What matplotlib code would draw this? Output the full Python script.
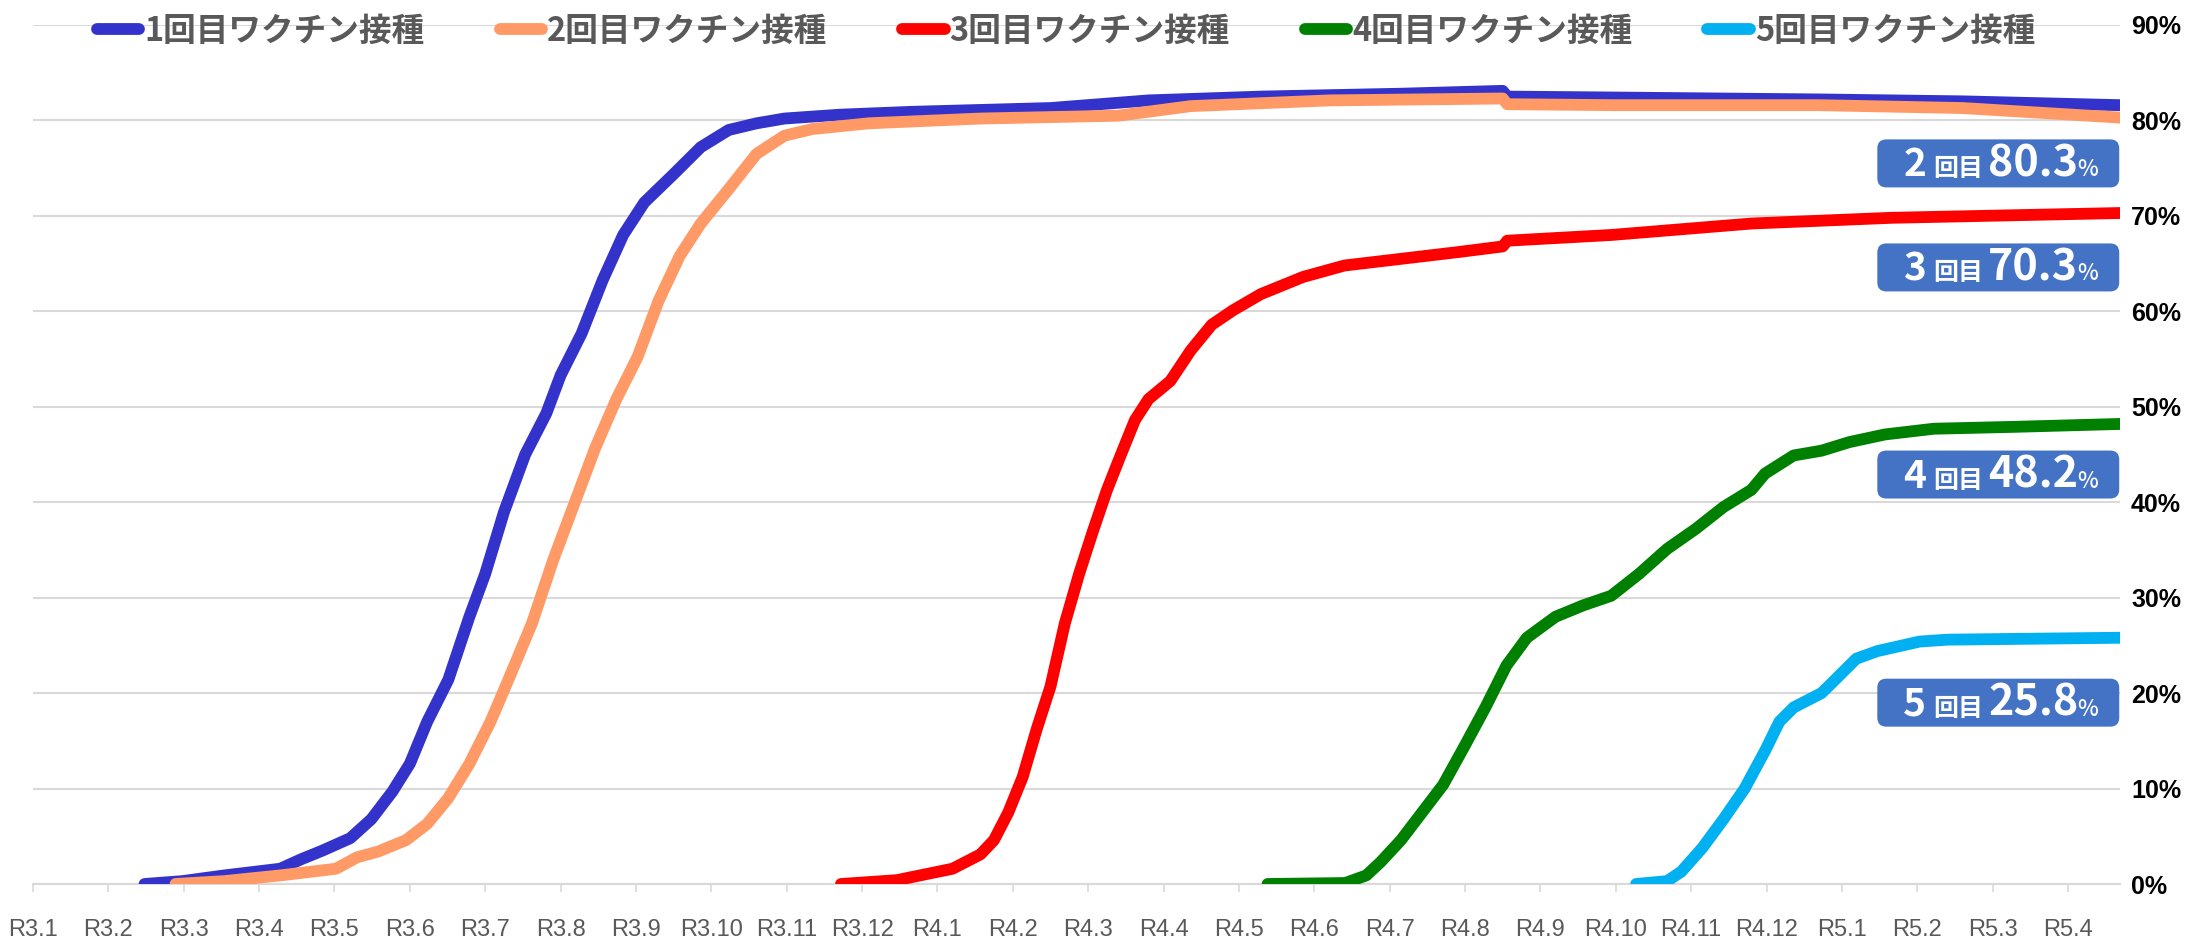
import numpy as np
import matplotlib.pyplot as plt
from matplotlib.patches import FancyBboxPatch
from matplotlib.transforms import IdentityTransform

# 横軸は R3.1 からの月数
month_labels = ["R3.1", "R3.2", "R3.3", "R3.4", "R3.5", "R3.6", "R3.7", "R3.8",
                "R3.9", "R3.10", "R3.11", "R3.12", "R4.1", "R4.2", "R4.3", "R4.4",
                "R4.5", "R4.6", "R4.7", "R4.8", "R4.9", "R4.10", "R4.11", "R4.12",
                "R5.1", "R5.2", "R5.3", "R5.4"]

# 1回目
x1 = [1.48, 1.98, 2.54, 3.28, 3.56, 3.84, 4.21, 4.49, 4.77, 5.0, 5.23, 5.51, 5.79,
      6.0, 6.25, 6.53, 6.81, 7.0, 7.28, 7.56, 7.83, 8.11, 8.49, 8.86, 9.23, 9.6,
      9.97, 10.7, 11.65, 13.5, 14.8, 16.3, 18.15, 19.5, 19.56, 21.0, 23.7, 25.6, 27.69]
y1 = [0.0, 0.3, 0.9, 1.6, 2.6, 3.5, 4.8, 6.8, 9.7, 12.6, 17.0, 21.4, 28.0,
      32.5, 39.0, 45.0, 49.3, 53.3, 57.7, 63.3, 68.0, 71.4, 74.3, 77.2, 79.0, 79.7,
      80.2, 80.6, 80.9, 81.3, 82.1, 82.5, 82.8, 83.1, 82.5, 82.4, 82.2, 82.0, 81.6]

# 2回目
x2 = [1.89, 2.54, 3.28, 4.02, 4.3, 4.58, 4.95, 5.23, 5.51, 5.79, 6.07, 6.35, 6.62,
      6.9, 7.18, 7.46, 7.74, 8.02, 8.3, 8.58, 8.86, 9.23, 9.6, 9.97, 10.34, 11.09,
      12.57, 14.4, 15.36, 17.2, 19.5, 19.56, 21.0, 23.7, 25.6, 27.69]
y2 = [0.0, 0.3, 0.9, 1.6, 2.8, 3.4, 4.6, 6.3, 9.0, 12.6, 17.0, 22.2, 27.3,
      33.9, 39.8, 45.7, 50.8, 55.2, 61.1, 65.8, 69.2, 72.8, 76.5, 78.4, 79.1, 79.7,
      80.2, 80.5, 81.5, 82.1, 82.3, 81.7, 81.6, 81.6, 81.3, 80.3]

# 3回目
x3 = [10.72, 11.46, 11.83, 12.2, 12.57, 12.75, 12.94, 13.13, 13.32, 13.5, 13.69,
      13.88, 14.06, 14.25, 14.43, 14.62, 14.8, 15.09, 15.36, 15.64, 15.92, 16.29,
      16.85, 17.4, 18.15, 18.9, 19.5, 19.56, 20.94, 22.8, 24.66, 27.69]
y3 = [0.0, 0.4, 1.0, 1.6, 3.1, 4.6, 7.5, 11.2, 16.3, 20.7, 27.3,
      32.5, 36.9, 41.3, 44.9, 48.6, 50.8, 52.7, 55.9, 58.6, 60.1, 61.8,
      63.6, 64.8, 65.5, 66.2, 66.8, 67.4, 68.0, 69.2, 69.8, 70.3]

# 4回目
x4 = [16.38, 17.41, 17.69, 17.88, 18.15, 18.43, 18.71, 18.99, 19.27, 19.55, 19.82,
      20.2, 20.57, 20.94, 21.31, 21.68, 22.06, 22.43, 22.8, 22.98, 23.36, 23.73,
      24.1, 24.57, 25.22, 26.3, 27.69]
y4 = [0.0, 0.1, 0.9, 2.3, 4.6, 7.5, 10.4, 14.4, 18.5, 22.9, 25.8,
      28.0, 29.2, 30.2, 32.5, 35.1, 37.2, 39.5, 41.3, 43.0, 44.9, 45.4,
      46.3, 47.1, 47.7, 47.9, 48.2]

# 5回目
x5 = [21.27, 21.68, 21.87, 22.15, 22.43, 22.71, 22.99, 23.17, 23.36, 23.73, 23.91,
      24.19, 24.47, 25.03, 25.4, 27.69]
y5 = [0.0, 0.3, 1.3, 3.8, 6.8, 10.0, 14.1, 17.0, 18.5, 20.0, 21.4,
      23.6, 24.4, 25.4, 25.6, 25.8]

series_names = ["1回目ワクチン接種", "2回目ワクチン接種", "3回目ワクチン接種",
                "4回目ワクチン接種", "5回目ワクチン接種"]
colors = ["#3333CC", "#FF9966", "#FF0000", "#008000", "#00B0F0"]

# 右端のラベル（回数, 値）
label_rounds = ["2", "3", "4", "5"]
label_values = [80.3, 70.3, 48.2, 25.8]
label_centers = [75.5, 64.6, 42.9, 19.0]

plt.rcParams['font.family'] = ['Liberation Sans', 'Noto Sans CJK JP', 'DejaVu Sans']

W, H = 2197, 939
fig = plt.figure(figsize=(W / 100, H / 100), dpi=100)
ax = fig.add_axes([33 / W, 1 - 884 / H, (2120 - 33) / W, (884 - 25) / H])

xs = [x1, x2, x3, x4, x5]
ys = [y1, y2, y3, y4, y5]
for x, y, c, name in zip(xs, ys, colors, series_names):
    ax.plot(x, y, color=c, lw=8.5, solid_capstyle='round', solid_joinstyle='round',
            label=name, zorder=3)

ax.set_xlim(0, 27.69)
ax.set_ylim(0, 90)
ax.set_xticks(np.arange(len(month_labels)))
ax.set_xticklabels(month_labels)
ax.set_yticks(np.arange(0, 91, 10))
ax.set_yticklabels([f"{v}%" for v in range(0, 91, 10)])
ax.yaxis.tick_right()

ax.grid(axis='y', color='#D9D9D9', lw=1.5)
ax.set_axisbelow(True)
for s in ['left', 'right', 'top']:
    ax.spines[s].set_visible(False)
ax.spines['bottom'].set_color('#D9D9D9')
ax.spines['bottom'].set_linewidth(1.5)
ax.spines['bottom'].set_zorder(1)

ax.tick_params(axis='x', colors='#D9D9D9', length=6, width=1.2, pad=19,
               labelcolor='#595959', labelsize=17)
ax.tick_params(axis='y', length=0, pad=8, labelsize=18, labelcolor='black')
for t in ax.get_yticklabels():
    t.set_fontweight('bold')

# 凡例
leg = fig.legend(loc='center', bbox_to_anchor=(1066 / W, 1 - 31 / H), ncol=5,
                 frameon=False, handlelength=1.3, handletextpad=0.15,
                 columnspacing=2.3,
                 prop={'family': ['Noto Sans CJK JP'], 'weight': 'bold', 'size': 23.5})
for t in leg.get_texts():
    t.set_color('#595959')

# 右端の数値ラベル
ident = IdentityTransform()
jp = ['Noto Sans CJK JP']
for r, v, yc in zip(label_rounds, label_values, label_centers):
    px0, pyc = ax.transData.transform((24.47, yc))
    px1, _ = ax.transData.transform((27.68, yc))
    box = FancyBboxPatch((px0, pyc - 24), px1 - px0, 48,
                         boxstyle='round,pad=0,rounding_size=9',
                         transform=ident, fc='#4472C4', ec='none', zorder=5)
    ax.add_artist(box)
    base = pyc - 13
    ax.text(px0 + 26, base, r, transform=ident, color='white', fontsize=28,
            family=jp, weight='bold', va='baseline', zorder=6)
    ax.text(px0 + 56, base, "回目", transform=ident, color='white', fontsize=18,
            family=jp, weight='bold', va='baseline', zorder=6)
    ax.text(px0 + 111, base, f"{v:.1f}", transform=ident, color='white', fontsize=31,
            family=jp, weight='bold', va='baseline', zorder=6)
    ax.text(px0 + 200, base, "%", transform=ident, color='white', fontsize=16,
            family=jp, weight='medium', va='baseline', zorder=6)

fig.savefig("out.png", dpi=100)
